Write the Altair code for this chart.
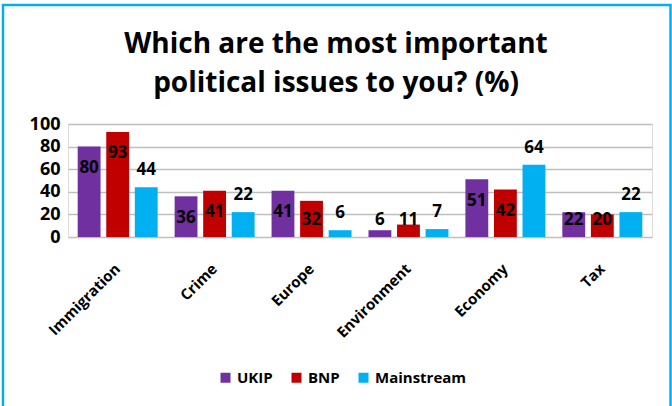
import altair as alt
import pandas as pd

categories = ["Immigration", "Crime", "Europe", "Environment", "Economy", "Tax"]
series = ["UKIP", "BNP", "Mainstream"]
ukip = [80, 36, 41, 6, 51, 22]
bnp = [93, 41, 32, 11, 42, 20]
mainstream = [44, 22, 6, 7, 64, 22]
colors = ["#7030A0", "#C00000", "#00B0F0"]
title_lines = ["Which are the most important", "political issues to you? (%)"]

rows = []
for i, c in enumerate(categories):
    for s, vals in zip(series, [ukip, bnp, mainstream]):
        rows.append({"issue": c, "party": s, "value": vals[i]})
df = pd.DataFrame(rows)

W, H = 584, 113
FONT = "Open Sans"

yaxis = alt.Axis(
    title=None, values=[0, 20, 40, 60, 80, 100], labelFontSize=18,
    labelFontWeight="bold", labelColor="black", labelPadding=8,
    ticks=False, domain=False, grid=True, gridColor="#BFBFBF",
    gridWidth=1.5, labelFont=FONT,
)
yscale = alt.Scale(domain=[0, 100], nice=False)

base = alt.Chart(df).encode(
    x=alt.X(
        "issue:N",
        sort=categories,
        scale=alt.Scale(paddingInner=0.175, paddingOuter=0.1),
        axis=alt.Axis(
            title=None, labelAngle=-45, labelAlign="right", labelBaseline="top",
            labelPadding=24, labelOffset=-5, ticks=False, domain=False,
            labelFontSize=15, labelFontWeight="bold", labelColor="black",
            labelFont=FONT,
        ),
    ),
    xOffset=alt.XOffset("party:N", sort=series, scale=alt.Scale(paddingInner=0.2)),
)

bars = base.mark_bar().encode(
    y=alt.Y("value:Q", scale=yscale, axis=yaxis),
    color=alt.Color(
        "party:N",
        scale=alt.Scale(domain=series, range=colors),
        legend=alt.Legend(
            title=None, orient="none", legendX=150, legendY=246,
            direction="horizontal", symbolType="square", symbolSize=100,
            symbolStrokeWidth=0, labelFontSize=15, labelFontWeight="bold",
            labelColor="black", labelFont=FONT, columnPadding=16, labelOffset=4,
        ),
    ),
)

labels = base.transform_calculate(
    ly="datum.party == 'Mainstream' ? datum.value + 15 : max(datum.value - 19, 15)"
).mark_text(
    fontSize=17, fontWeight="bold", color="black", baseline="middle", font=FONT
).encode(
    y=alt.Y("ly:Q", scale=yscale, axis=yaxis),
    text=alt.Text("value:Q"),
)

frame = alt.Chart(pd.DataFrame({"k": [0]})).mark_rect(
    fill="transparent", stroke="#00B0F0", strokeWidth=2.5
).encode(
    x=alt.value(-65), x2=alt.value(602.5), y=alt.value(-119), y2=alt.value(300)
)

chart = alt.layer(frame, bars, labels).properties(
    width=W,
    height=H,
    autosize=alt.AutoSizeParams(type="none"),
    padding={"left": 68, "top": 124, "right": 20, "bottom": 169},
    title=alt.TitleParams(
        text=title_lines, fontSize=28, font=FONT, fontWeight="bold",
        color="black", anchor="middle", dx=-24, offset=-94, lineHeight=39,
    ),
).configure_view(strokeWidth=0).configure(background="white")

chart.save("out.html", embed_options={"renderer": "svg", "actions": False})
